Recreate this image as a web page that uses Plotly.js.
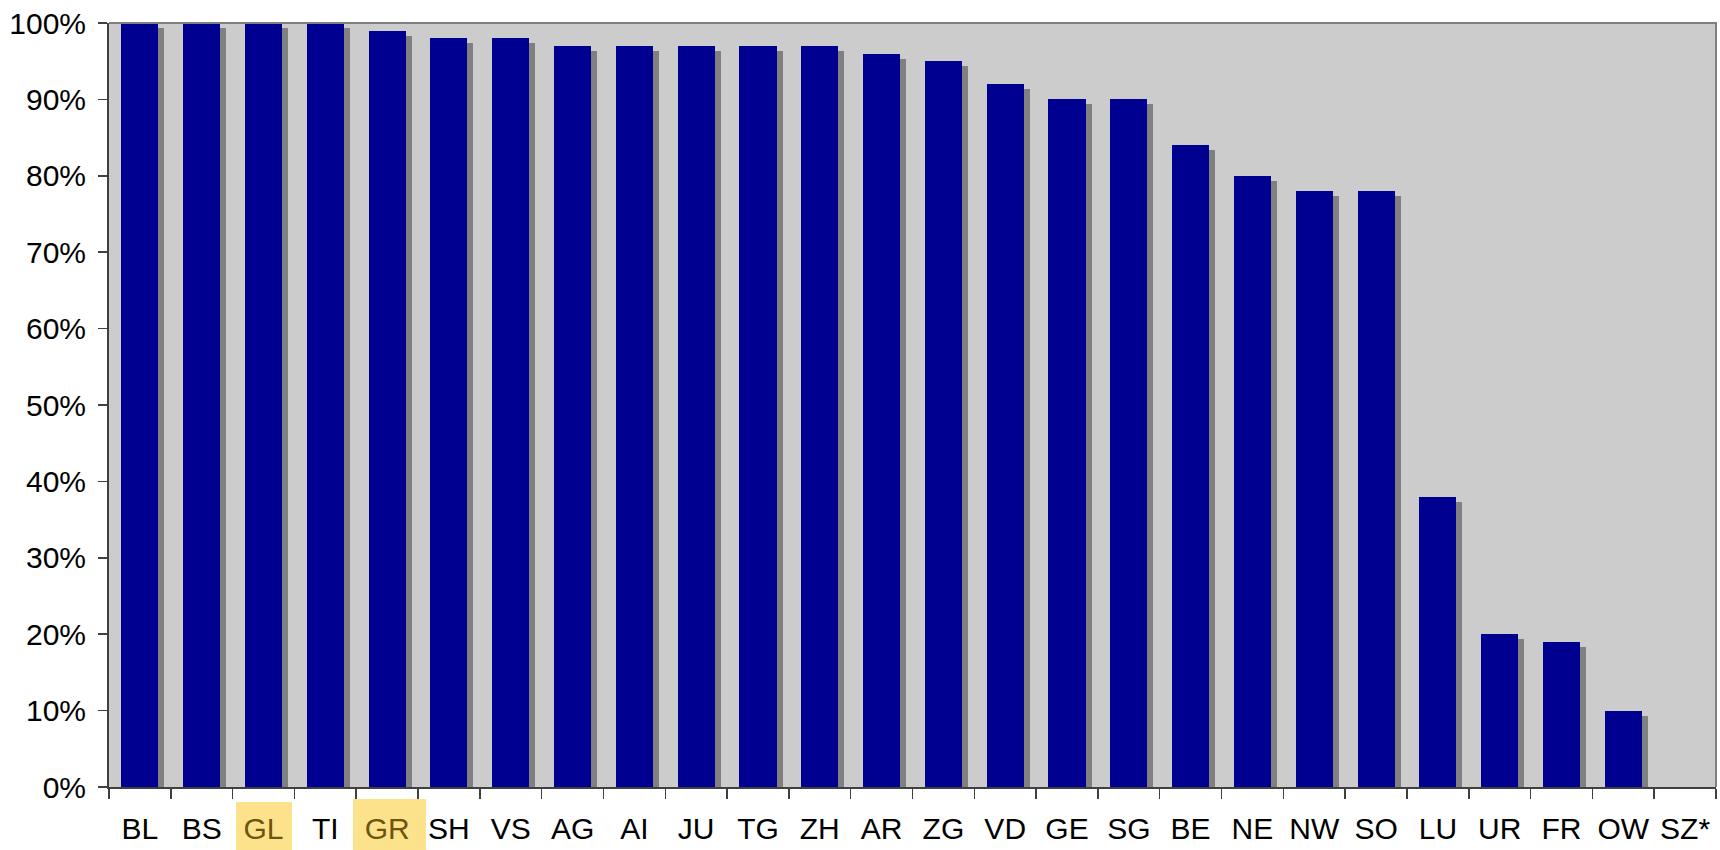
<!DOCTYPE html>
<html>
<head>
<meta charset="utf-8">
<script src="https://cdn.plot.ly/plotly-3.0.1.min.js"></script>
<style>html,body{margin:0;padding:0;background:#fff;}#chart{width:1720px;height:850px;}</style>
</head>
<body>
<div id="chart"></div>
<script>
// ---- data ----
const cantons = ['BL','BS','GL','TI','GR','SH','VS','AG','AI','JU','TG','ZH','AR','ZG','VD','GE','SG','BE','NE','NW','SO','LU','UR','FR','OW','SZ*'];
const shares  = [100,100,100,100,99,98,98,97,97,97,97,97,96,95,92,90,90,84,80,78,78,38,20,19,10,0];
const highlighted = ['GL','GR'];
const yTickVals = [0,10,20,30,40,50,60,70,80,90,100];
const yTickText = yTickVals.map(v => v + '%');

// ---- style ----
const BAR = '#000090', SHADOW = '#808080', BG = '#cccccc';
const HL_BG = '#fde28c', HL_TXT = '#6b5510';
const hlBox = {GL: [-0.445, 0.461, -0.0196], GR: [-0.552, 0.629, -0.0157]};

const tickText = cantons.map(c => highlighted.includes(c)
  ? '<span style="color:' + HL_TXT + '">' + c + '</span>' : c);

const shadow = {
  type: 'bar', x: cantons, y: shares, base: -0.65,
  width: 0.6, offset: -0.203,
  marker: {color: SHADOW, line: {width: 0}},
  hoverinfo: 'skip', showlegend: false
};
const bars = {
  type: 'bar', x: cantons, y: shares,
  width: 0.6, offset: -0.3,
  marker: {color: BAR, line: {width: 0}},
  showlegend: false
};

const shapes = highlighted.map(c => {
  const i = cantons.indexOf(c);
  const b = hlBox[c];
  return {type: 'rect', layer: 'below', xref: 'x', yref: 'paper',
    x0: i + b[0], x1: i + b[1], y0: b[2], y1: -0.09,
    fillcolor: HL_BG, line: {width: 0}};
});
shapes.push({type: 'path', xref: 'paper', yref: 'paper', layer: 'above',
  path: 'M0,1 L1,1 L1,0', line: {color: '#808080', width: 2}});

const layout = {
  width: 1720, height: 850,
  margin: {l: 109, r: 4, t: 23, b: 63, pad: 0},
  paper_bgcolor: '#ffffff', plot_bgcolor: BG,
  barmode: 'overlay', bargap: 0,
  font: {family: 'Liberation Sans, Arial, sans-serif', color: '#000000', size: 30},
  xaxis: {
    type: 'category', tickvals: cantons, ticktext: tickText, tickangle: 0,
    tickson: 'boundaries', ticks: 'outside', ticklen: 10, tickwidth: 1.5, tickcolor: '#404040',
    showline: true, linecolor: '#404040', linewidth: 2, showgrid: false, zeroline: false,
    tickfont: {size: 30}, ticklabelstandoff: 14,
    range: [-0.5, cantons.length - 0.5], fixedrange: true
  },
  yaxis: {
    range: [0, 100], tickvals: yTickVals, ticktext: yTickText,
    ticks: 'outside', ticklen: 9, tickwidth: 1.5, tickcolor: '#404040',
    showline: true, linecolor: '#404040', linewidth: 2, showgrid: false, zeroline: false,
    tickfont: {size: 30}, ticklabelstandoff: 6, fixedrange: true
  },
  shapes: shapes
};

Plotly.newPlot('chart', [shadow, bars], layout, {displayModeBar: false, staticPlot: true});
</script>
</body>
</html>
